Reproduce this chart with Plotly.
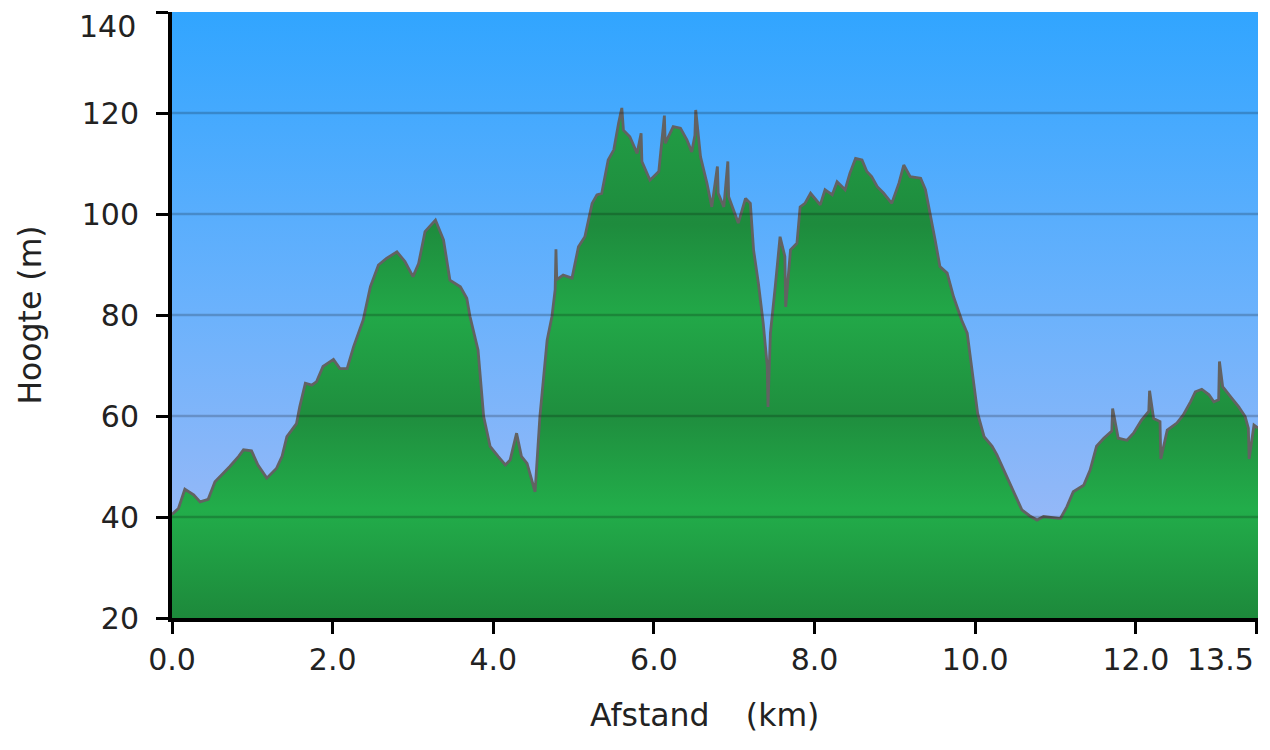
import plotly.graph_objects as go

# ---- data ----
dist_km = [0.00, 0.08, 0.16, 0.27, 0.35, 0.45, 0.535, 0.62, 0.72, 0.83, 0.89, 0.99,
           1.07, 1.18, 1.30, 1.37, 1.43, 1.55, 1.59, 1.66, 1.74, 1.80, 1.88, 2.01,
           2.09, 2.18, 2.26, 2.38, 2.44, 2.47, 2.57, 2.67, 2.80, 2.90, 3.00, 3.07,
           3.15, 3.28, 3.38, 3.46, 3.59, 3.67, 3.71, 3.81, 3.88, 3.96, 4.06, 4.15,
           4.21, 4.29, 4.35, 4.42, 4.52, 4.58, 4.67, 4.73, 4.77, 4.78, 4.79, 4.87,
           4.98, 5.06, 5.14, 5.23, 5.29, 5.35, 5.43, 5.50, 5.56, 5.60, 5.62, 5.70,
           5.79, 5.84, 5.85, 5.95, 6.06, 6.13, 6.14, 6.24, 6.33, 6.41, 6.47, 6.51,
           6.52, 6.58, 6.66, 6.72, 6.79, 6.80, 6.87, 6.92, 6.93, 7.05, 7.14, 7.20,
           7.24, 7.30, 7.36, 7.41, 7.42, 7.45, 7.51, 7.57, 7.63, 7.64, 7.70, 7.78,
           7.82, 7.88, 7.95, 8.07, 8.13, 8.22, 8.28, 8.38, 8.44, 8.51, 8.59, 8.65,
           8.71, 8.78, 8.86, 8.96, 9.05, 9.11, 9.19, 9.32, 9.38, 9.44, 9.50, 9.56,
           9.65, 9.73, 9.83, 9.90, 9.96, 10.03, 10.11, 10.21, 10.27, 10.37, 10.48,
           10.58, 10.68, 10.77, 10.85, 10.98, 11.06, 11.14, 11.22, 11.35, 11.43,
           11.51, 11.60, 11.70, 11.71, 11.78, 11.89, 11.97, 12.07, 12.16, 12.17,
           12.22, 12.30, 12.31, 12.39, 12.51, 12.59, 12.68, 12.74, 12.82, 12.91,
           12.97, 13.03, 13.04, 13.08, 13.18, 13.28, 13.36, 13.40, 13.41, 13.47,
           13.52]
elev_m = [40.5, 41.7, 45.5, 44.4, 43.0, 43.5, 47.0, 48.3, 50.0, 52.0, 53.3, 53.1,
          50.3, 47.7, 49.6, 52.0, 55.9, 58.5, 61.8, 66.5, 66.1, 66.8, 69.8, 71.2,
          69.4, 69.4, 73.7, 79.0, 83.0, 85.6, 89.9, 91.2, 92.5, 90.6, 87.6, 90.2,
          96.5, 98.8, 94.9, 86.9, 85.6, 83.3, 79.7, 73.1, 59.9, 54.0, 52.0, 50.3,
          51.3, 56.6, 52.0, 50.6, 45.0, 59.9, 75.0, 79.7, 85.0, 93.0, 87.0, 87.9,
          87.3, 93.5, 95.5, 102.1, 103.8, 104.1, 110.7, 112.7, 118.0, 121.0, 116.6, 115.3,
          112.0, 116.0, 110.4, 106.7, 108.4, 119.5, 114.0, 117.3, 117.0, 114.7, 112.3, 115.6,
          120.6, 111.3, 106.1, 101.4, 109.4, 104.1, 101.4, 110.4, 103.4, 98.2, 103.1, 102.1,
          92.9, 86.3, 78.4, 70.0, 61.8, 76.4, 85.6, 95.5, 91.6, 81.6, 92.9, 94.2,
          101.4, 102.1, 104.1, 101.8, 104.8, 103.8, 106.4, 104.8, 108.1, 111.0, 110.7, 108.4,
          107.4, 105.4, 104.1, 102.1, 106.1, 109.7, 107.4, 107.1, 104.8, 100.1, 94.9, 89.6,
          88.3, 83.6, 79.0, 76.4, 68.5, 60.5, 55.9, 54.0, 52.3, 48.7, 44.7,
          41.4, 40.2, 39.4, 40.1, 39.9, 39.7, 42.0, 45.0, 46.3, 49.3,
          54.0, 55.6, 57.0, 61.5, 55.6, 55.2, 56.6, 59.2, 60.9, 65.0,
          59.5, 58.9, 51.5, 57.2, 58.6, 60.2, 62.8, 64.8, 65.3, 64.2,
          62.8, 63.2, 70.8, 65.8, 63.8, 61.8, 59.9, 57.6, 51.5, 58.2,
          57.6]

x_tick_vals = [0, 2, 4, 6, 8, 10, 12, 13.5]
x_tick_text = ["0.0", "2.0", "4.0", "6.0", "8.0", "10.0", "12.0", "13.5"]
y_tick_vals = [20, 40, 60, 80, 100, 120, 140]
y_tick_text = ["20", "40", "60", "80", "100", "120", "140"]
grid_vals = [40, 60, 80, 100, 120]
x_title = "Afstand\u00a0\u00a0\u00a0\u2009(km)"
y_title = "Hoogte (m)"

X_MAX = 13.52
Y_MIN, Y_MAX = 20, 140

FONT = "DejaVu Sans"
TXT = "#222222"

fig = go.Figure()

# sky-like background gradient
fig.add_trace(go.Scatter(
    x=[0, X_MAX, X_MAX, 0, 0], y=[Y_MIN, Y_MIN, Y_MAX, Y_MAX, Y_MIN],
    mode="none", fill="toself",
    fillgradient=dict(type="vertical", start=Y_MIN, stop=Y_MAX,
                      colorscale=[[0, "#a8bbf5"], [0.5, "#6cb2fc"], [1, "#31a5ff"]]),
    hoverinfo="skip", showlegend=False))

# elevation profile
fig.add_trace(go.Scatter(
    x=dist_km, y=elev_m, mode="lines",
    line=dict(color="#626262", width=2.8),
    fill="tozeroy",
    fillgradient=dict(type="vertical", start=Y_MIN, stop=Y_MAX,
                      colorscale=[[0.0, "#1d893b"], [0.18, "#22ad4a"], [0.333, "#1f8e3e"],
                                  [0.5, "#22a848"], [0.65, "#1e8b3d"], [0.85, "#22a046"],
                                  [1.0, "#22a046"]]),
    hoverinfo="x+y", showlegend=False))

for g in grid_vals:
    fig.add_shape(type="line", xref="paper", x0=0, x1=1, yref="y", y0=g, y1=g,
                  line=dict(color="rgba(0,0,0,0.2)", width=2.5), layer="above")

# the edge labels are shifted inward (as in the reference), drawn as annotations
last_x = x_tick_vals[-1]
top_y = y_tick_vals[-1]
fig.add_annotation(x=last_x, xref="x", xanchor="right", y=0, yref="paper", yanchor="top",
                   yshift=-22, text=x_tick_text[-1], showarrow=False,
                   font=dict(family=FONT, size=30, color=TXT))
fig.add_annotation(x=0, xref="paper", xanchor="right", xshift=-35, y=top_y, yref="y",
                   yanchor="top", yshift=4, borderpad=0, text=y_tick_text[-1],
                   showarrow=False, font=dict(family=FONT, size=30, color=TXT))
# x-axis title (slightly left of centre, as in the reference)
fig.add_annotation(x=0.5, xref="paper", xanchor="center", xshift=-11,
                   y=0, yref="paper", yanchor="middle", yshift=-97,
                   text=x_title, showarrow=False,
                   font=dict(family=FONT, size=31.5, color=TXT))

axis_x_text = x_tick_text[:-1] + [""]
axis_y_text = y_tick_text[:-1] + [""]

fig.update_layout(
    width=1254, height=730,
    margin=dict(l=164, r=4, t=4, b=120),
    paper_bgcolor="white", plot_bgcolor="white",
    font=dict(family=FONT, color=TXT, size=30),
    showlegend=False,
    xaxis=dict(range=[0, X_MAX], tickvals=x_tick_vals, ticktext=axis_x_text,
               showline=True, linecolor="black", linewidth=4,
               ticks="outside", ticklen=12, tickwidth=3, tickcolor="black",
               showgrid=False, zeroline=False, automargin=False,
               tickfont=dict(family=FONT, size=30, color=TXT),
               ticklabelstandoff=0),
    yaxis=dict(range=[Y_MIN, Y_MAX], tickvals=y_tick_vals, ticktext=axis_y_text,
               showline=True, linecolor="black", linewidth=4,
               ticks="outside", ticklen=12, tickwidth=3, tickcolor="black",
               showgrid=False, zeroline=False, automargin=False,
               tickfont=dict(family=FONT, size=30, color=TXT),
               ticklabelstandoff=11,
               title=dict(text=y_title,
                          font=dict(family=FONT, size=31.5, color=TXT), standoff=32)),
)

fig.write_html("out.html")
